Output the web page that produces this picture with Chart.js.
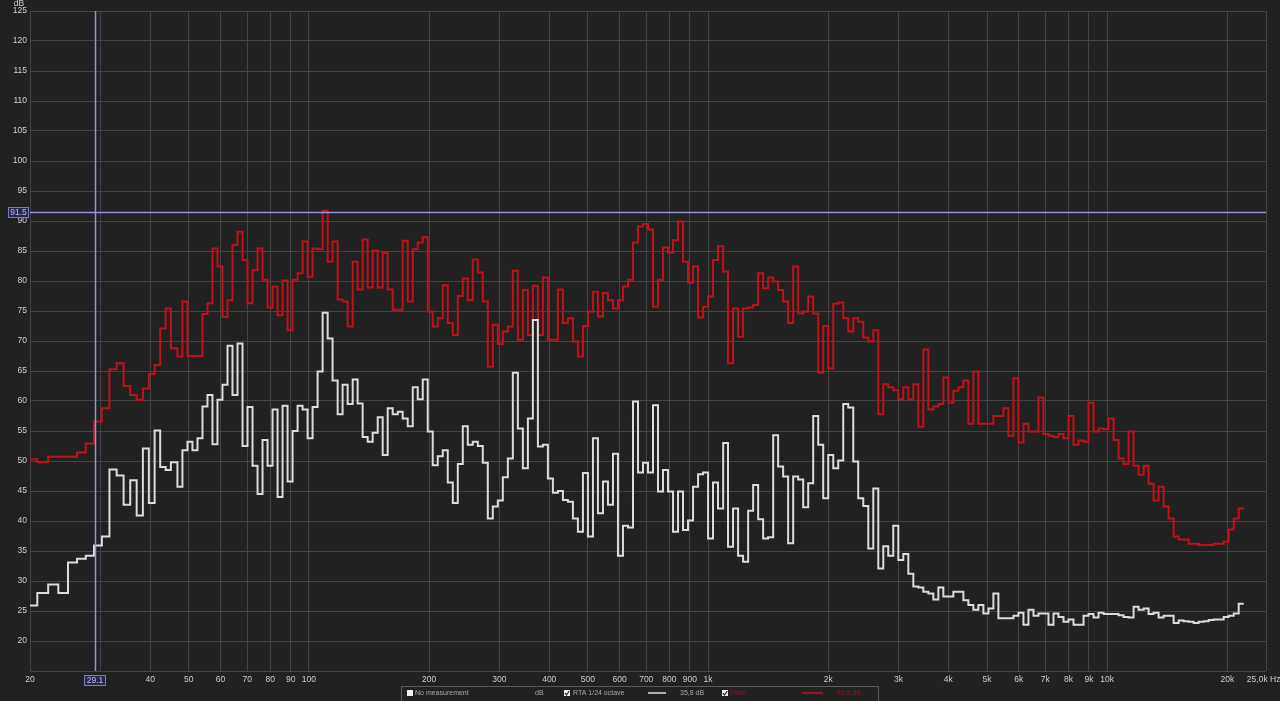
<!DOCTYPE html>
<html>
<head>
<meta charset="utf-8">
<style>
html,body{margin:0;padding:0;background:#212121;overflow:hidden}
#wrap{position:relative;width:1280px;height:701px;background:#212121}
canvas{display:block}
</style>
<script src="https://cdn.jsdelivr.net/npm/chart.js@4.4.1/dist/chart.umd.min.js"></script>
</head>
<body>
<div id="wrap"><canvas id="c" width="1280" height="701"></canvas></div>
<script>
// ---- Data: start frequency (Hz) of each analysis bin, then the last bin's upper edge ----
const binStartHz = [
  20, 20.86, 22.21, 23.55, 24.90, 26.24, 27.59, 28.93, 30.28, 31.63, 32.97, 34.32, 35.66, 37.01, 38.36, 39.70, 41.05, 42.39, 43.74, 45.08,
  46.82, 48.19, 49.61, 51.06, 52.56, 54.10, 55.68, 57.31, 58.99, 60.72,
  62.50, 64.33, 66.22, 68.16, 70.15, 72.21, 74.33, 76.50, 78.75, 81.05, 83.43, 85.87, 88.39, 90.98, 93.64, 96.39, 99.21, 102.1, 105.1, 108.2, 111.4, 114.6, 118.0, 121.4,
  125.0, 128.7, 132.4, 136.3, 140.3, 144.4, 148.7, 153.0, 157.5, 162.1, 166.9, 171.7, 176.8, 182.0, 187.3, 192.8, 198.4, 204.2, 210.2, 216.4, 222.7, 229.3, 236.0, 242.9,
  250.0, 257.3, 264.9, 272.6, 280.6, 288.8, 297.3, 306.0, 315.0, 324.2, 333.7, 343.5, 353.6, 363.9, 374.6, 385.6, 396.9, 408.5, 420.4, 432.8, 445.5, 458.5, 471.9, 485.8,
  500.0, 514.7, 529.7, 545.3, 561.2, 577.7, 594.6, 612.0, 630.0, 648.4, 667.4, 687.0, 707.1, 727.8, 749.2, 771.1, 793.7, 817.0, 840.9, 865.5, 890.9, 917.0, 943.9, 971.5,
  1000, 1029, 1059, 1091, 1122, 1155, 1189, 1224, 1260, 1297, 1335, 1374, 1414, 1456, 1498, 1542, 1587, 1634, 1682, 1731, 1782, 1834, 1888, 1943,
  2000, 2059, 2119, 2181, 2245, 2311, 2378, 2448, 2520, 2594, 2670, 2748, 2828, 2911, 2997, 3084, 3175, 3268, 3364, 3462, 3564, 3668, 3776, 3886,
  4000, 4117, 4238, 4362, 4490, 4621, 4757, 4896, 5040, 5187, 5339, 5496, 5657, 5823, 5993, 6169, 6350, 6536, 6727, 6924, 7127, 7336, 7551, 7772,
  8000, 8234, 8476, 8724, 8980, 9243, 9514, 9793, 10079, 10375, 10679, 10992, 11314, 11645, 11986, 12338, 12699, 13071, 13454, 13849, 14254, 14672, 15102, 15545,
  16000, 16469, 16951, 17448, 17959, 18486, 19027, 19585, 20159, 20749, 21357
];
const lastEdgeHz = 21983;

// RTA 1/24 octave (white), dB
const rtaDb = [
  25.9, 28.0, 29.4, 28.0, 33.1, 33.7, 34.2, 35.9, 37.4, 48.6, 47.6, 42.7, 46.8, 40.9, 52.1, 43.0, 55.1, 49.0, 48.5, 49.8,
  45.7, 51.8, 53.2, 51.8, 53.8, 59.1, 61.0, 52.8, 60.2, 62.7,
  69.2, 61.0, 69.6, 52.5, 59.0, 49.2, 44.5, 53.5, 49.2, 58.6, 44.0, 59.2, 46.6, 55.0, 59.2, 58.6, 53.8, 59.0, 64.9, 74.7, 70.4, 63.4, 57.8, 62.7,
  59.5, 63.6, 59.6, 54.0, 53.2, 54.7, 57.3, 51.0, 58.8, 57.8, 58.2, 57.1, 55.8, 62.3, 60.3, 63.6, 54.9, 49.3, 50.8, 51.8, 46.4, 43.0, 49.5, 55.8,
  52.7, 53.2, 52.5, 49.7, 40.4, 42.4, 43.4, 47.3, 50.4, 64.7, 55.4, 48.8, 57.1, 73.5, 52.4, 52.7, 47.1, 44.7, 45.0, 43.5, 43.2, 40.4, 38.2, 48.0,
  37.4, 53.8, 41.3, 46.6, 42.7, 51.2, 34.2, 39.2, 38.9, 59.9, 48.1, 49.7, 48.1, 59.3, 44.9, 48.5, 44.9, 38.2, 44.9, 38.5, 40.1, 45.7, 47.8, 48.1,
  37.1, 46.4, 42.1, 53.0, 35.7, 42.1, 34.2, 33.2, 41.7, 46.0, 40.3, 37.1, 37.3, 54.3, 49.1, 47.4, 36.3, 47.4, 46.9, 42.3, 46.3, 57.5, 52.7, 43.8,
  51.0, 48.8, 50.1, 59.5, 58.9, 49.9, 43.8, 42.5, 35.4, 45.4, 32.1, 35.8, 34.2, 39.2, 33.5, 34.5, 31.2, 29.1, 28.9, 28.2, 27.9, 26.9, 28.9, 27.4,
  27.4, 28.2, 28.2, 26.8, 26.0, 25.2, 26.0, 24.6, 25.4, 27.9, 23.8, 23.8, 23.8, 24.2, 24.7, 22.7, 25.2, 24.2, 24.6, 24.6, 22.7, 24.6, 24.0, 23.2,
  23.6, 22.7, 22.7, 24.2, 24.5, 23.9, 24.7, 24.5, 24.5, 24.5, 24.3, 24.0, 23.9, 25.7, 25.2, 25.4, 24.5, 24.7, 23.9, 24.2, 24.2, 23.0, 23.4, 23.3,
  23.2, 23.0, 23.2, 23.3, 23.5, 23.6, 23.6, 24.0, 24.2, 24.6, 26.2
];

// Peak (red), dB
const peakDb = [
  50.3, 49.8, 50.7, 50.7, 50.7, 51.4, 52.9, 56.6, 58.8, 65.3, 66.3, 62.5, 61.0, 60.2, 62.1, 64.5, 66.0, 72.1, 75.4, 68.8,
  67.4, 76.6, 67.5, 67.5, 67.5, 74.5, 76.3, 85.4, 82.4, 74.0,
  76.8, 86.0, 88.2, 83.5, 76.3, 81.8, 85.4, 80.2, 75.6, 79.1, 74.3, 80.1, 71.8, 80.2, 81.3, 86.6, 80.7, 85.4, 85.3, 91.7, 83.2, 86.6, 76.9, 76.6,
  72.4, 83.2, 78.6, 86.9, 78.9, 85.1, 78.9, 84.7, 78.6, 75.2, 75.2, 86.7, 76.6, 85.3, 86.4, 87.3, 74.9, 72.4, 73.8, 79.3, 73.0, 71.0, 77.5, 80.4,
  76.8, 83.6, 81.4, 76.6, 65.7, 72.7, 69.5, 71.6, 72.4, 81.7, 70.2, 78.5, 71.0, 79.2, 71.0, 80.6, 70.2, 70.2, 78.6, 73.0, 73.8, 69.9, 67.4, 72.5,
  74.9, 78.2, 74.1, 78.0, 76.8, 75.4, 76.8, 79.1, 80.2, 86.4, 89.1, 89.5, 88.6, 75.7, 80.2, 85.6, 84.7, 86.8, 89.9, 83.2, 79.7, 82.4, 73.9, 75.7,
  77.4, 83.5, 85.8, 81.6, 66.3, 75.4, 70.7, 75.4, 75.6, 76.0, 81.3, 78.8, 80.6, 79.9, 78.5, 76.6, 73.0, 82.4, 74.6, 74.9, 77.4, 74.6, 64.7, 72.5,
  65.4, 76.2, 76.4, 73.8, 71.6, 73.8, 73.2, 70.6, 69.9, 71.8, 57.8, 62.8, 62.3, 61.8, 60.3, 62.3, 60.3, 62.8, 55.7, 68.6, 58.6, 59.1, 59.5, 63.9,
  59.7, 61.7, 62.3, 63.4, 56.2, 64.9, 56.2, 56.2, 56.2, 57.5, 57.5, 58.8, 54.2, 63.8, 53.1, 56.2, 54.9, 54.9, 60.6, 54.5, 54.2, 54.0, 54.5, 53.8,
  57.5, 52.7, 53.4, 53.2, 59.7, 54.9, 55.4, 55.3, 57.1, 53.5, 50.4, 49.5, 54.9, 49.2, 47.7, 49.2, 46.2, 43.4, 45.7, 42.4, 40.4, 37.4, 36.9, 36.9,
  36.2, 36.2, 36.0, 36.0, 36.0, 36.2, 36.2, 36.6, 38.6, 40.4, 42.1
];

// Axis ticks
const xTickValues = [20, 30, 40, 50, 60, 70, 80, 90, 100, 200, 300, 400, 500, 600, 700, 800, 900, 1000, 2000, 3000, 4000, 5000, 6000, 7000, 8000, 9000, 10000, 20000, 25000];
const xTickLabels = ['20', '', '40', '50', '60', '70', '80', '90', '100', '200', '300', '400', '500', '600', '700', '800', '900', '1k', '2k', '3k', '4k', '5k', '6k', '7k', '8k', '9k', '10k', '20k', '25,0k Hz  '];
const yTickValues = [15, 20, 25, 30, 35, 40, 45, 50, 55, 60, 65, 70, 75, 80, 85, 90, 95, 100, 105, 110, 115, 120, 125];
const yTickLabels = ['', '20', '25', '30', '35', '40', '45', '50', '55', '60', '65', '70', '75', '80', '85', '90', '95', '100', '105', '110', '115', '120', '125'];
const yUnit = 'dB';

// Cursor
const cursorHz = 29.1;
const cursorDb = 91.5;
const cursorHzLabel = '29.1';
const cursorDbLabel = '91.5';

// Legend
const legendLabels = ['No measurement', 'dB', 'RTA 1/24 octave', '35,8 dB', 'Peak', '91,5 dB'];

// ---- Styling ----
const FONT = '"Liberation Sans", Arial, sans-serif';
const BG = '#212121';
const GRID = '#444444';
const TICK = '#cfcfcf';
const WHITE = '#dcdcdc';
const RED = '#c1121c';
const CURSOR = '#9494dc';

function toPoints(vals) {
  const pts = binStartHz.map((f, i) => ({ x: f, y: vals[i] }));
  pts.push({ x: lastEdgeHz, y: vals[vals.length - 1] });
  return pts;
}

function box(ctx, cx, cy, w, h, text) {
  ctx.fillStyle = '#28284a';
  ctx.fillRect(Math.round(cx - w / 2), Math.round(cy - h / 2), w, h);
  ctx.strokeStyle = '#7c7cc4';
  ctx.lineWidth = 1;
  ctx.strokeRect(Math.round(cx - w / 2) + 0.5, Math.round(cy - h / 2) + 0.5, w - 1, h - 1);
  ctx.fillStyle = '#b8b8f4';
  ctx.font = '8.5px ' + FONT;
  ctx.textAlign = 'center';
  ctx.textBaseline = 'middle';
  ctx.fillText(text, cx, cy + 0.5);
}

function checkbox(ctx, x, y, checked) {
  ctx.fillStyle = '#f0f0f0';
  ctx.fillRect(x, y, 6, 6);
  if (checked) {
    ctx.strokeStyle = '#202020';
    ctx.lineWidth = 1.2;
    ctx.beginPath();
    ctx.moveTo(x + 1, y + 3);
    ctx.lineTo(x + 2.5, y + 5);
    ctx.lineTo(x + 5.2, y + 1);
    ctx.stroke();
  }
}

const overlayPlugin = {
  id: 'overlay',
  afterDatasetsDraw(chart) {
    const { ctx, chartArea: a, scales: { x, y } } = chart;
    const cx = Math.round(x.getPixelForValue(cursorHz)) + 0.5;
    const cy = Math.round(y.getPixelForValue(cursorDb)) + 0.5;
    ctx.save();
    ctx.strokeStyle = CURSOR;
    ctx.lineWidth = 1.5;
    ctx.beginPath();
    ctx.moveTo(cx, a.top);
    ctx.lineTo(cx, a.bottom);
    ctx.moveTo(a.left, cy);
    ctx.lineTo(a.right, cy);
    ctx.stroke();
    ctx.restore();
  },
  afterDraw(chart) {
    const { ctx, chartArea: a, scales: { x, y } } = chart;
    ctx.save();
    const cx = x.getPixelForValue(cursorHz);
    const cy = y.getPixelForValue(cursorDb);
    box(ctx, cx, a.bottom + 9.5, 22, 11, cursorHzLabel);
    box(ctx, 18.5, cy, 21, 11, cursorDbLabel);

    // unit label
    ctx.fillStyle = TICK;
    ctx.font = '8.5px ' + FONT;
    ctx.textAlign = 'center';
    ctx.textBaseline = 'middle';
    ctx.fillText(yUnit, 19, 3.5);

    // legend box
    const ly = 693;
    ctx.fillStyle = BG;
    ctx.fillRect(402, 686, 476, 16);
    ctx.strokeStyle = '#5a5a5a';
    ctx.lineWidth = 1;
    ctx.strokeRect(401.5, 686.5, 477, 16);
    ctx.font = '7px ' + FONT;
    ctx.textBaseline = 'middle';
    ctx.textAlign = 'left';
    checkbox(ctx, 407, 690, false);
    ctx.fillStyle = '#a8a8a8';
    ctx.fillText(legendLabels[0], 415, ly);
    ctx.fillText(legendLabels[1], 535, ly);
    checkbox(ctx, 564, 690, true);
    ctx.fillStyle = '#a8a8a8';
    ctx.fillText(legendLabels[2], 573, ly);
    ctx.strokeStyle = WHITE;
    ctx.lineWidth = 1.5;
    ctx.beginPath(); ctx.moveTo(648, ly); ctx.lineTo(666, ly); ctx.stroke();
    ctx.fillStyle = '#a8a8a8';
    ctx.fillText(legendLabels[3], 680, ly);
    checkbox(ctx, 722, 690, true);
    ctx.fillStyle = '#9a1018';
    ctx.fillText(legendLabels[4], 730, ly);
    ctx.strokeStyle = RED;
    ctx.lineWidth = 1.5;
    ctx.beginPath(); ctx.moveTo(802, ly); ctx.lineTo(823, ly); ctx.stroke();
    ctx.fillStyle = '#9a1018';
    ctx.fillText(legendLabels[5], 837, ly);
    ctx.restore();
  }
};

Chart.defaults.font.family = FONT;

new Chart(document.getElementById('c'), {
  type: 'line',
  data: {
    datasets: [
      {
        label: 'RTA 1/24 octave',
        data: toPoints(rtaDb),
        borderColor: WHITE,
        borderWidth: 2,
        stepped: 'before',
        pointRadius: 0,
        fill: false
      },
      {
        label: 'Peak',
        data: toPoints(peakDb),
        borderColor: RED,
        borderWidth: 2,
        stepped: 'before',
        pointRadius: 0,
        fill: false
      }
    ]
  },
  options: {
    responsive: false,
    animation: false,
    devicePixelRatio: 1,
    layout: { padding: { top: 11, right: 14, left: 0, bottom: 0 } },
    plugins: { legend: { display: false }, tooltip: { enabled: false }, title: { display: false } },
    events: [],
    scales: {
      x: {
        type: 'logarithmic',
        min: 20,
        max: 25000,
        afterBuildTicks: (s) => { s.ticks = xTickValues.map(v => ({ value: v })); },
        afterFit: (s) => { s.height = 30; s.paddingLeft = 0; s.paddingRight = 0; },
        grid: { color: GRID, lineWidth: 1, drawTicks: false },
        border: { display: false },
        ticks: {
          autoSkip: false, maxRotation: 0, minRotation: 0, padding: 4,
          color: TICK, font: { size: 8.5, family: FONT },
          callback: (v, i) => xTickLabels[i]
        }
      },
      y: {
        type: 'linear',
        min: 15,
        max: 125,
        afterBuildTicks: (s) => { s.ticks = yTickValues.map(v => ({ value: v })); },
        afterFit: (s) => { s.width = 30; s.paddingTop = 0; s.paddingBottom = 0; },
        grid: { color: GRID, lineWidth: 1, drawTicks: false },
        border: { display: false },
        ticks: {
          padding: 3,
          color: TICK, font: { size: 8.5, family: FONT },
          callback: (v, i) => yTickLabels[i]
        }
      }
    }
  },
  plugins: [overlayPlugin]
});
</script>
</body>
</html>
